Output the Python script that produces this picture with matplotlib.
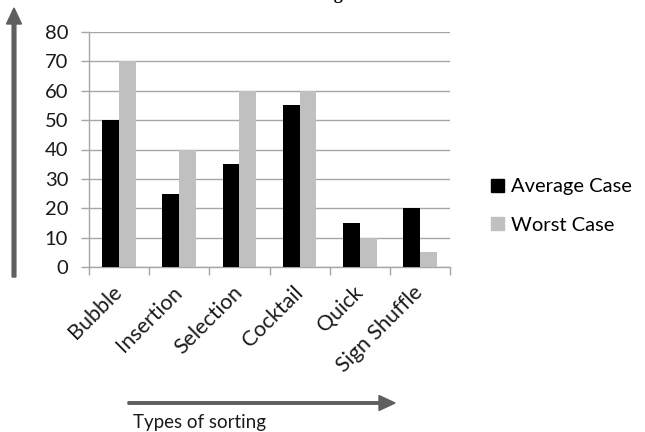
import matplotlib
matplotlib.use("Agg")
import matplotlib.pyplot as plt
import matplotlib.transforms as mtransforms
from matplotlib.patches import FancyArrow

categories = ["Bubble", "Insertion", "Selection", "Cocktail", "Quick", "Sign Shuffle"]
average_case = [50, 25, 35, 55, 15, 20]
worst_case = [70, 40, 60, 60, 10, 5]
y_ticks = [0, 10, 20, 30, 40, 50, 60, 70, 80]
series_names = ["Average Case", "Worst Case"]

W, H = 645, 432
fig = plt.figure(figsize=(W / 100, H / 100), dpi=100)
plt.rcParams["font.family"] = ["Lato", "DejaVu Sans"]

grid_col = "#a6a6a6"
text_col = "#1a1a1a"
ax = fig.add_axes([89 / W, (H - 267) / H, (450 - 89) / W, (267 - 32) / H])

x = list(range(len(categories)))
bw = 0.28
ax.bar([i - bw / 2 for i in x], average_case, width=bw, color="black", zorder=3)
ax.bar([i + bw / 2 for i in x], worst_case, width=bw, color="#c0c0c0", zorder=3)

ax.set_xlim(-0.5, len(categories) - 0.5)
ax.set_ylim(0, 80)
ax.set_yticks(y_ticks)
ax.set_yticklabels([str(v) for v in y_ticks], fontsize=14.5, color=text_col)
ax.yaxis.grid(True, color=grid_col, linewidth=1.0, zorder=0)

# category boundaries as ticks, names centred between them
ax.set_xticks([i - 0.5 for i in range(len(categories) + 1)])
ax.set_xticklabels([])
ax.set_xticks(x, minor=True)
ax.set_xticklabels(categories, minor=True, rotation=45, ha="right", va="center",
                   rotation_mode="anchor", fontsize=15.5, color=text_col)
shift = mtransforms.ScaledTranslation(5 / 100, 0, fig.dpi_scale_trans)
for lbl in ax.get_xticklabels(minor=True):
    lbl.set_transform(lbl.get_transform() + shift)
ax.tick_params(axis="x", which="major", length=6, width=1, color=grid_col)
ax.tick_params(axis="x", which="minor", length=0, pad=16)
ax.tick_params(axis="y", length=6, width=1, color=grid_col, pad=9)

for s in ["top", "right"]:
    ax.spines[s].set_visible(False)
for s in ["left", "bottom"]:
    ax.spines[s].set_color(grid_col)
    ax.spines[s].set_linewidth(1.0)

# legend
fig.legend(handles=[plt.Rectangle((0, 0), 1, 1, color="black"),
                    plt.Rectangle((0, 0), 1, 1, color="#c0c0c0")],
           labels=series_names, loc="center left",
           bbox_to_anchor=(481 / W, 1 - 206 / H), frameon=False,
           fontsize=14.5, handlelength=0.65, handleheight=0.65,
           handletextpad=0.35, labelspacing=1.05, borderpad=0)

# axis direction arrows
arrow_col = "#5f5f5f"
fig.add_artist(FancyArrow(14 / W, 1 - 277 / H, 0, (277 - 8) / H, width=2.5 / H,
                          head_width=15 / W, head_length=16 / H,
                          length_includes_head=True, color=arrow_col,
                          transform=fig.transFigure))
fig.add_artist(FancyArrow(128 / W, 1 - 403 / H, (395 - 128) / W, 0, width=2.5 / H,
                          head_width=15 / H, head_length=16 / W,
                          length_includes_head=True, color=arrow_col,
                          transform=fig.transFigure))
fig.text(133 / W, 1 - 428 / H, "Types of sorting", fontsize=13.5, color=text_col,
         va="baseline", ha="left")

fig.text(312 / W, 1 + 1 / H, "Table of several Sorting on Time Model",
         family="Liberation Serif", fontweight="bold", fontsize=13,
         ha="center", va="baseline")

fig.savefig("out.png", dpi=100)
